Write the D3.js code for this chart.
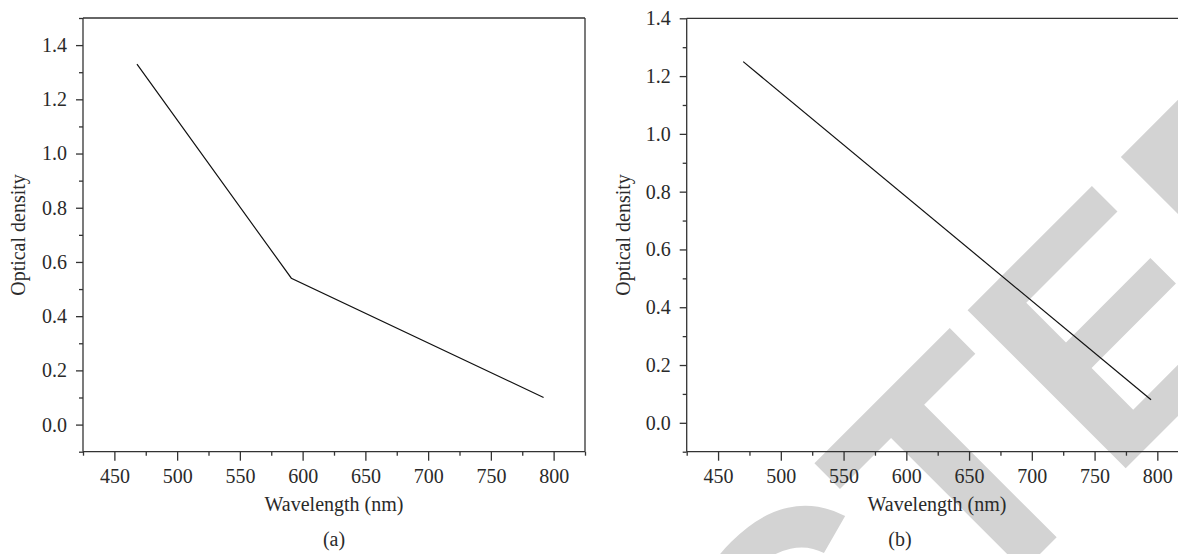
<!DOCTYPE html>
<html>
<head>
<meta charset="utf-8">
<script src="https://cdn.jsdelivr.net/npm/d3@7"></script>
<style>
  html, body { margin: 0; padding: 0; background: #fff; }
  svg { display: block; }
  .tick text { font-family: "Liberation Serif", "Times New Roman", serif; font-size: 20px; fill: #2a2a2a; }
  .axis path, .axis line { stroke: #333; stroke-width: 1.3px; }
  .title { font-family: "Liberation Serif", "Times New Roman", serif; font-size: 20px; fill: #2a2a2a; }
</style>
</head>
<body>
<svg id="chart" width="1178" height="554"></svg>
<script>
// ---- data ----
const wavelengthA = [468, 591, 792];
const densityA = [1.33, 0.54, 0.10];
const wavelengthB = [470, 795];
const densityB = [1.25, 0.08];

const xMajorTicks = [450, 500, 550, 600, 650, 700, 750, 800];
const xMinorTicks = [425, 475, 525, 575, 625, 675, 725, 775, 825];
const yMajorTicks = [0.0, 0.2, 0.4, 0.6, 0.8, 1.0, 1.2, 1.4];
const yMinorTicksA = [-0.1, 0.1, 0.3, 0.5, 0.7, 0.9, 1.1, 1.3, 1.5];
const yMinorTicksB = [-0.1, 0.1, 0.3, 0.5, 0.7, 0.9, 1.1, 1.3];

const xLabel = "Wavelength (nm)";
const yLabel = "Optical density";
const panelLabels = ["(a)", "(b)"];
const watermark = "RETRACTED";

const svg = d3.select("#chart");

// watermark (behind everything)
svg.append("text")
  .attr("transform", "translate(721,873) rotate(-45)")
  .attr("text-anchor", "middle")
  .style("font-family", '"Liberation Sans", Arial, sans-serif')
  .style("font-weight", "bold")
  .style("font-size", "325px")
  .style("fill", "#d3d3d3")
  .text(watermark);

function panel(cfg) {
  const g = svg.append("g");
  const x = d3.scaleLinear().domain(cfg.xDomain).range(cfg.xRange);
  const y = d3.scaleLinear().domain(cfg.yDomain).range(cfg.yRange);
  const x0 = cfg.xRange[0], x1 = cfg.xRange[1];
  const y0 = cfg.yRange[0], y1 = cfg.yRange[1];

  // frame top / right
  g.append("line").attr("x1", x0).attr("x2", x1).attr("y1", y1).attr("y2", y1)
    .attr("stroke", "#333").attr("stroke-width", 1.3);
  g.append("line").attr("x1", x1).attr("x2", x1).attr("y1", y1).attr("y2", y0)
    .attr("stroke", "#333").attr("stroke-width", 1.3);

  // x axis
  g.append("g").attr("class", "axis").attr("transform", `translate(0,${y0})`)
    .call(d3.axisBottom(x).tickValues(xMinorTicks).tickSize(4).tickFormat(""))
    .call(a => a.select(".domain").remove());
  g.append("g").attr("class", "axis").attr("transform", `translate(0,${y0})`)
    .call(d3.axisBottom(x).tickValues(xMajorTicks).tickSize(9).tickPadding(8).tickFormat(d3.format("d")))
    .call(a => a.select(".domain").attr("d", `M${x0},0H${x1}`));

  // y axis
  g.append("g").attr("class", "axis").attr("transform", `translate(${x0},0)`)
    .call(d3.axisLeft(y).tickValues(cfg.yMinor).tickSize(4).tickFormat(""))
    .call(a => a.select(".domain").remove());
  g.append("g").attr("class", "axis").attr("transform", `translate(${x0},0)`)
    .call(d3.axisLeft(y).tickValues(yMajorTicks).tickSize(7).tickPadding(9).tickFormat(d3.format(".1f")))
    .call(a => a.select(".domain").attr("d", `M0,${y0}V${y1}`));

  // data line
  const pts = cfg.xs.map((v, i) => [v, cfg.ys[i]]);
  g.append("path").datum(pts)
    .attr("fill", "none").attr("stroke", "#111").attr("stroke-width", 1.2)
    .attr("d", d3.line().x(d => x(d[0])).y(d => y(d[1])));

  // titles
  g.append("text").attr("class", "title")
    .attr("x", cfg.xTitleX).attr("y", 511).attr("text-anchor", "middle").text(xLabel);
  g.append("text").attr("class", "title")
    .attr("transform", `translate(${cfg.yTitleX},235) rotate(-90)`)
    .attr("text-anchor", "middle").text(yLabel);
  g.append("text").attr("class", "title")
    .attr("x", cfg.panelX).attr("y", 546).attr("text-anchor", "middle").text(cfg.panelLabel);
}

panel({
  xDomain: [425, 825], xRange: [83, 585],
  yDomain: [-0.1, 1.5], yRange: [451.7, 18],
  yMinor: yMinorTicksA,
  xs: wavelengthA, ys: densityA,
  xTitleX: 334, yTitleX: 25, panelX: 334, panelLabel: panelLabels[0]
});

panel({
  xDomain: [425, 825], xRange: [686.7, 1188.7],
  yDomain: [-0.1, 1.4], yRange: [451.7, 18.3],
  yMinor: yMinorTicksB,
  xs: wavelengthB, ys: densityB,
  xTitleX: 937, yTitleX: 630, panelX: 900, panelLabel: panelLabels[1]
});
</script>
</body>
</html>
